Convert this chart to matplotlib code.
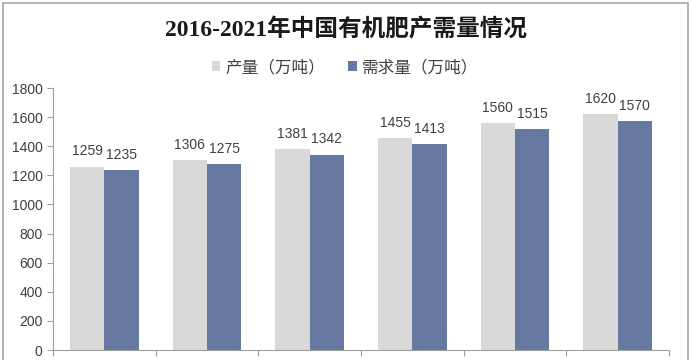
import numpy as np
import matplotlib.pyplot as plt
from matplotlib.patches import Rectangle

years = ['2016', '2017', '2018', '2019', '2020', '2021']
production = [1259, 1306, 1381, 1455, 1560, 1620]
demand = [1235, 1275, 1342, 1413, 1515, 1570]

plt.rcParams['font.family'] = ['Liberation Sans', 'Noto Sans CJK SC']

fig = plt.figure(figsize=(6.93, 3.6), dpi=100)
ax = fig.add_axes([53 / 693, 1 - 350 / 360, (669 - 53) / 693, (350 - 88) / 360])

x = np.arange(len(years))
w = 0.333
b1 = ax.bar(x - w / 2, production, w, color='#d9d9d9', label='产量（万吨）')
b2 = ax.bar(x + w / 2, demand, w, color='#6779a0', label='需求量（万吨）')

for bars, vals in ((b1, production), (b2, demand)):
    for r, v in zip(bars, vals):
        ax.annotate(str(v), (r.get_x() + r.get_width() / 2, v), xytext=(0, 6),
                    textcoords='offset points', ha='center', va='bottom',
                    fontsize=10, color='#404040')

ax.set_xlim(-0.5, len(years) - 0.5)
ax.set_ylim(0, 1800)
ax.set_yticks(range(0, 1801, 200))
ax.set_xticks(np.arange(-0.5, len(years)))
ax.set_xticklabels([])
ax.tick_params(axis='y', labelsize=10, colors='#404040', length=4, color='#a0a0a0')
ax.tick_params(axis='x', length=4, color='#a0a0a0')
for s in ('top', 'right'):
    ax.spines[s].set_visible(False)
for s in ('left', 'bottom'):
    ax.spines[s].set_color('#a0a0a0')

fig.text(0.5, 1 - 30 / 360, '2016-2021年中国有机肥产需量情况', ha='center', va='center',
         fontsize=17, fontweight='bold', family=['Liberation Serif', 'Noto Sans CJK SC'],
         color='#1a1a1a')

fig.legend(handles=[b1, b2], loc='center', bbox_to_anchor=(345 / 693, 1 - 67 / 360),
           ncol=2, frameon=False, fontsize=12, handlelength=0.5, handleheight=0.5,
           handletextpad=0.3, columnspacing=1.4, labelcolor='#404040')

fig.patches.append(Rectangle((3 / 693, -0.1), 685 / 693, 1.1 - 3 / 360,
                             transform=fig.transFigure, fill=False,
                             edgecolor='#a6a6a6', linewidth=1.2))

fig.savefig('out.png', dpi=100)
